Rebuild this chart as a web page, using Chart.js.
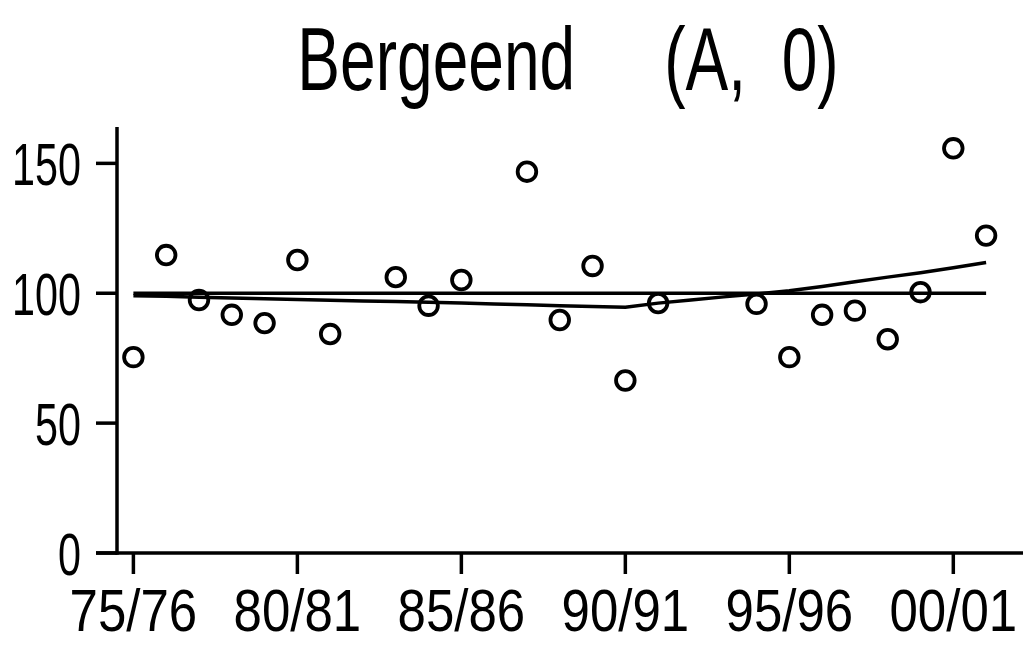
<!DOCTYPE html>
<html>
<head>
<meta charset="utf-8">
<script src="https://cdn.jsdelivr.net/npm/chart.js@4.4.1/dist/chart.umd.min.js"></script>
<style>
  html, body { margin: 0; padding: 0; background: #ffffff; }
  #wrap { width: 1023px; height: 646px; }
</style>
</head>
<body>
<div id="wrap"><canvas id="c" width="1023" height="646"></canvas></div>
<script>
// ---- data ----
const titleText = "Bergeend     (A,  0)";
const years = [1975,1976,1977,1978,1979,1980,1981,1982,1983,1984,1985,1986,1987,1988,1989,1990,1991,1992,1993,1994,1995,1996,1997,1998,1999,2000,2001];
const indexValues = [75.4,114.7,97.4,91.7,88.5,112.8,84.3,null,106.2,95.2,105.1,null,146.8,89.7,110.5,66.4,96.2,null,null,95.9,75.4,91.7,93.3,82.3,100.4,155.8,122.2];
const trendValues = [99.0,98.8,98.5,98.2,97.9,97.6,97.3,97.0,96.8,96.5,96.2,95.9,95.6,95.2,94.9,94.6,96.2,97.4,98.6,99.7,101.0,102.6,104.4,106.2,107.9,109.8,111.8];
const referenceValue = 100;
const xTickYears = [1975,1980,1985,1990,1995,2000];
const xTickLabels = ["75/76","80/81","85/86","90/91","95/96","00/01"];
const yTickValues = [0,50,100,150];
const yTickLabels = ["0","50","100","150"];

// ---- datasets built from the arrays ----
const pointData = years.map((yr, i) => ({ x: yr, y: indexValues[i] })).filter(p => p.y !== null);
const trendData = years.map((yr, i) => ({ x: yr, y: trendValues[i] }));
const refData = [{ x: years[0], y: referenceValue }, { x: years[years.length - 1], y: referenceValue }];

const FONT = '"Liberation Sans", Arial, sans-serif';

function drawScaledText(ctx, text, x, y, size, sx, align) {
  ctx.save();
  ctx.font = size + 'px ' + FONT;
  ctx.textBaseline = 'alphabetic';
  ctx.textAlign = align;
  ctx.translate(x, y);
  ctx.scale(sx, 1);
  ctx.fillText(text, 0, 0);
  ctx.restore();
}

const axesPlugin = {
  id: 'axesPlugin',
  beforeDatasetsDraw(chart) {
    const ctx = chart.ctx;
    const area = chart.chartArea;
    const xs = chart.scales.x, ys = chart.scales.y;
    ctx.save();
    ctx.strokeStyle = '#000';
    ctx.lineWidth = 3.5;
    ctx.lineCap = 'butt';
    ctx.beginPath();
    ctx.moveTo(area.left, area.top);
    ctx.lineTo(area.left, area.bottom + 1.75);
    ctx.stroke();
    ctx.beginPath();
    ctx.moveTo(area.left - 21, area.bottom);
    ctx.lineTo(chart.width, area.bottom);
    ctx.stroke();
    yTickValues.forEach(v => {
      const py = ys.getPixelForValue(v);
      ctx.beginPath();
      ctx.moveTo(area.left - 21, py);
      ctx.lineTo(area.left, py);
      ctx.stroke();
    });
    xTickYears.forEach(v => {
      const px = xs.getPixelForValue(v);
      ctx.beginPath();
      ctx.moveTo(px, area.bottom);
      ctx.lineTo(px, area.bottom + 21);
      ctx.stroke();
    });
    ctx.restore();
  },
  afterDraw(chart) {
    const ctx = chart.ctx;
    const area = chart.chartArea;
    const xs = chart.scales.x, ys = chart.scales.y;
    ctx.save();
    ctx.fillStyle = '#000';
    yTickValues.forEach((v, i) => {
      const py = ys.getPixelForValue(v);
      drawScaledText(ctx, yTickLabels[i], area.left - 36, py + 21.5, 59, 0.7, 'right');
    });
    xTickYears.forEach((v, i) => {
      const px = xs.getPixelForValue(v);
      drawScaledText(ctx, xTickLabels[i], px, 631, 60, 0.85, 'center');
    });
    drawScaledText(ctx, titleText, 568, 90, 89, 0.72, 'center');
    ctx.restore();
  }
};

new Chart(document.getElementById('c'), {
  type: 'scatter',
  data: {
    datasets: [
      {
        label: 'reference',
        data: refData,
        showLine: true,
        borderColor: '#000',
        borderWidth: 3.5,
        pointRadius: 0,
        fill: false
      },
      {
        label: 'trend',
        data: trendData,
        showLine: true,
        borderColor: '#000',
        borderWidth: 3.5,
        pointRadius: 0,
        tension: 0,
        fill: false
      },
      {
        label: 'index',
        data: pointData,
        showLine: false,
        pointRadius: 9.3,
        pointBorderWidth: 3.8,
        pointBorderColor: '#000',
        pointBackgroundColor: 'rgba(255,255,255,0)'
      }
    ]
  },
  options: {
    responsive: false,
    animation: false,
    devicePixelRatio: 1,
    layout: { autoPadding: false, padding: { left: 117, top: 127, right: 0, bottom: 93 } },
    plugins: { legend: { display: false }, tooltip: { enabled: false }, title: { display: false } },
    scales: {
      x: { type: 'linear', display: false, min: 1974.5, max: 2002.125 },
      y: { type: 'linear', display: false, min: 0, max: 164 }
    }
  },
  plugins: [axesPlugin]
});
</script>
</body>
</html>
